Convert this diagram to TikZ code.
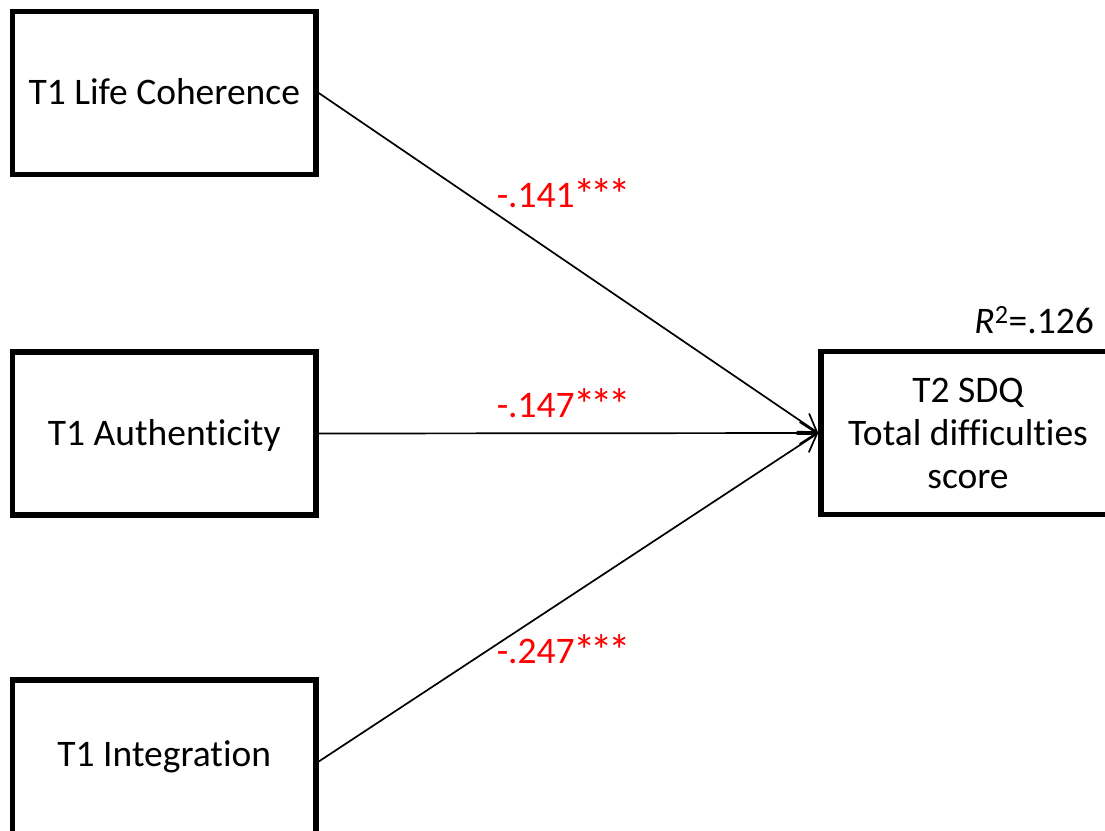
\documentclass[tikz,border=0pt]{standalone}
\usepackage{fontspec}
\setmainfont[Ligatures={NoCommon}]{Carlito}
\usetikzlibrary{arrows.meta}
\newcommand\sigstar{\makebox[17.5pt]{\raisebox{-3.5pt}{\scalebox{1.2}{*}}}}
\newcommand\sigstars{\kern1pt\sigstar\sigstar\sigstar}
\begin{document}
\begin{tikzpicture}[x=1pt,y=-1pt,
  varbox/.style={draw,line width=5.5pt,minimum width=303.5pt,minimum height=163pt,
    inner sep=0pt,align=center,text height=23pt,text depth=0pt,
    font=\fontsize{37.5}{43}\selectfont},
  outbox/.style={draw,line width=5.5pt,minimum width=294pt,minimum height=163pt,
    inner sep=0pt,align=center,font=\fontsize{37.5}{43}\selectfont},
  effect/.style={line width=1.7pt,line cap=round,
    -{Straight Barb[length=17pt,width=22pt,line width=1.7pt]}},
  coef/.style={text=red,inner sep=0pt,font=\fontsize{37.5}{43}\selectfont}
]
\clip (0,0) rectangle (1105,830);
\fill[white] (0,0) rectangle (1105,830);

% predictor boxes
\node[varbox] (lc) at (164.25,93) {T1 Life Coherence};
\node[varbox] (au) at (164.25,433.5) {T1 Authenticity};
\node[varbox] (ig) at (164.25,761.5) {\raisebox{7pt}{T1 Integration}};

% outcome box
\node[outbox] (sdq) at (968,433) {T2 SDQ\\Total difficulties\\score};
\node[anchor=base east,inner sep=0pt,font=\fontsize{37.5}{43}\selectfont] (r2)
  at (1094,333) {\textit{R}\textsuperscript{2}=.126};

% regression paths
\draw[effect] (lc.east) -- (sdq.west);
\draw[effect] (au.east) -- (sdq.west);
\draw[effect] (ig.east) -- (sdq.west);

% path coefficients
\node[coef,anchor=base] (c1) at (562.5,207) {-.141\sigstars};
\node[coef,anchor=base] (c2) at (562.5,417) {-.147\sigstars};
\node[coef,anchor=base] (c3) at (562.5,663) {-.247\sigstars};
\end{tikzpicture}
\end{document}
